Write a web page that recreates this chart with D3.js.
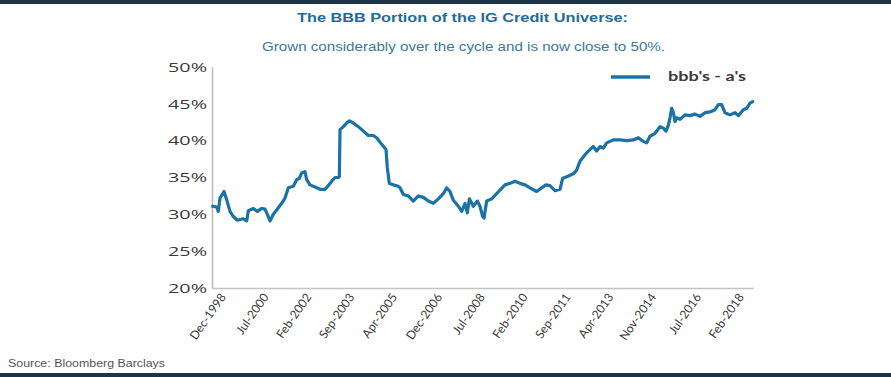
<!DOCTYPE html>
<html>
<head>
<meta charset="utf-8">
<script src="https://cdn.jsdelivr.net/npm/d3@7"></script>
<style>
  html, body { margin: 0; padding: 0; background: #fff; }
  svg { display: block; }
</style>
</head>
<body>
<svg id="chart" width="891" height="377"></svg>
<script>
// ---- Data (decimal years, BBB share in %) ----
const years = [
  1998.572, 1998.720, 1998.781, 1998.843, 1998.991, 1999.114, 1999.213, 1999.336, 1999.484, 1999.706,
  1999.830, 1999.891, 2000.076, 2000.224, 2000.385, 2000.508, 2000.594, 2000.693, 2000.816, 2000.940,
  2001.125, 2001.248, 2001.371, 2001.556, 2001.680, 2001.778, 2001.864, 2001.987, 2002.050, 2002.173,
  2002.358, 2002.542, 2002.728, 2002.851, 2002.974, 2003.097, 2003.221, 2003.258, 2003.283, 2003.406,
  2003.529, 2003.628, 2003.775, 2003.961, 2004.146, 2004.330, 2004.516, 2004.639, 2004.825, 2004.984,
  2005.034, 2005.107, 2005.256, 2005.440, 2005.503, 2005.626, 2005.811, 2005.995, 2006.181, 2006.366,
  2006.550, 2006.736, 2006.921, 2007.105, 2007.229, 2007.352, 2007.476, 2007.660, 2007.784, 2007.907,
  2007.993, 2008.068, 2008.215, 2008.363, 2008.462, 2008.561, 2008.611, 2008.709, 2008.894, 2009.079,
  2009.202, 2009.387, 2009.572, 2009.757, 2009.943, 2010.127, 2010.312, 2010.559, 2010.744, 2010.904,
  2011.052, 2011.237, 2011.422, 2011.521, 2011.669, 2011.915, 2012.038, 2012.161, 2012.347, 2012.532,
  2012.655, 2012.779, 2012.902, 2013.025, 2013.148, 2013.271, 2013.395, 2013.641, 2013.889, 2014.135,
  2014.320, 2014.505, 2014.628, 2014.751, 2014.937, 2015.122, 2015.245, 2015.344, 2015.431, 2015.492,
  2015.554, 2015.615, 2015.677, 2015.739, 2015.862, 2016.047, 2016.232, 2016.417, 2016.602, 2016.787,
  2016.971, 2017.157, 2017.280, 2017.403, 2017.526, 2017.712, 2017.897, 2018.020, 2018.205, 2018.328,
  2018.452, 2018.551
];
const bbbShare = [
  31.1, 31.0, 30.4, 32.2, 33.1, 31.7, 30.4, 29.7, 29.2, 29.4,
  29.1, 30.5, 30.8, 30.4, 30.8, 30.7, 30.0, 29.1, 30.0, 30.6,
  31.5, 32.2, 33.6, 33.8, 34.7, 34.9, 35.6, 35.8, 34.7, 34.0,
  33.7, 33.4, 33.4, 33.9, 34.5, 35.0, 35.0, 35.1, 41.5, 41.9,
  42.4, 42.7, 42.4, 41.9, 41.3, 40.7, 40.7, 40.4, 39.5, 38.8,
  36.3, 34.2, 34.0, 33.8, 33.6, 32.7, 32.5, 31.8, 32.5, 32.3,
  31.8, 31.5, 32.1, 32.8, 33.6, 33.1, 31.9, 31.1, 30.4, 31.5,
  30.2, 32.1, 31.1, 31.8, 31.1, 29.7, 29.5, 31.8, 32.1, 32.8,
  33.3, 34.0, 34.2, 34.5, 34.2, 34.0, 33.6, 33.1, 33.6, 34.0,
  33.9, 33.2, 33.4, 34.9, 35.1, 35.5, 36.0, 37.2, 38.1, 38.8,
  39.2, 38.6, 39.2, 39.0, 39.7, 39.9, 40.1, 40.1, 40.0, 40.1,
  40.4, 39.9, 39.7, 40.6, 41.0, 41.9, 41.7, 41.3, 42.1, 43.1,
  44.4, 43.8, 42.6, 43.1, 42.9, 43.5, 43.4, 43.6, 43.3, 43.8,
  43.9, 44.2, 44.9, 44.9, 43.8, 43.5, 43.8, 43.4, 44.2, 44.4,
  45.1, 45.3
];
const xTickValues = [1998.917, 2000.5, 2002.083, 2003.667, 2005.25, 2006.917, 2008.5,
  2010.083, 2011.667, 2013.25, 2014.833, 2016.5, 2018.083];
const xTickLabels = ["Dec-1998", "Jul-2000", "Feb-2002", "Sep-2003", "Apr-2005", "Dec-2006",
  "Jul-2008", "Feb-2010", "Sep-2011", "Apr-2013", "Nov-2014", "Jul-2016", "Feb-2018"];
const yTickValues = [20, 25, 30, 35, 40, 45, 50];
const seriesName = "bbb's - a's";
const titleText = "The BBB Portion of the IG Credit Universe:";
const subtitleText = "Grown considerably over the cycle and is now close to 50%.";
const sourceText = "Source: Bloomberg Barclays";

// ---- Layout ----
const svg = d3.select("#chart");
const W = 891, H = 377;
const plot = { left: 212, right: 753, top: 67, bottom: 288 };
const lineColor = "#1a72a5";

const x = d3.scaleLinear().domain([1998.547, 2018.562]).range([plot.left, plot.right]);
const y = d3.scaleLinear().domain([20, 50]).range([plot.bottom, plot.top]);

// top & bottom dark bars
svg.append("rect").attr("x", 0).attr("y", 0).attr("width", W).attr("height", 4).attr("fill", "#1d3446");
svg.append("rect").attr("x", 0).attr("y", 373).attr("width", W).attr("height", 4).attr("fill", "#1d3446");

// titles
svg.append("text").attr("x", 297).attr("y", 22)
  .attr("textLength", 331).attr("lengthAdjust", "spacingAndGlyphs")
  .style("font-family", "'Liberation Sans', Arial, sans-serif").style("font-weight", "bold")
  .style("font-size", "13px").attr("fill", "#1f6b98").text(titleText);
svg.append("text").attr("x", 262).attr("y", 51)
  .attr("textLength", 403).attr("lengthAdjust", "spacingAndGlyphs")
  .style("font-family", "'Liberation Sans', Arial, sans-serif")
  .style("font-size", "12.5px").attr("fill", "#3a78a0").text(subtitleText);

// y axis
const yAxis = d3.axisLeft(y).tickValues(yTickValues).tickSize(0).tickPadding(5)
  .tickFormat(d => d + "%");
const gy = svg.append("g").attr("transform", `translate(${plot.left},0)`).call(yAxis);
gy.select(".domain").attr("stroke", "#b8b8b8").attr("stroke-width", 1.5);
gy.selectAll("text").style("font-family", "'Open Sans', sans-serif")
  .style("font-size", "13.5px").attr("fill", "#3a3a3a")
  .attr("textLength", 39).attr("lengthAdjust", "spacingAndGlyphs");

// x axis
const xAxis = d3.axisBottom(x).tickValues(xTickValues).tickSize(0)
  .tickFormat((d, i) => xTickLabels[i]);
const gx = svg.append("g").attr("transform", `translate(0,${plot.bottom})`).call(xAxis);
gx.select(".domain").attr("stroke", "#c4c4c4").attr("stroke-width", 1.5);
gx.selectAll("text")
  .style("font-family", "Lato, 'Open Sans', sans-serif").style("font-size", "12px")
  .attr("fill", "#3a3a3a")
  .attr("text-anchor", "end")
  .attr("dy", "0")
  .attr("y", 0)
  .attr("transform", "translate(4,9) rotate(-55)");

// line
const line = d3.line().x((d, i) => x(years[i])).y(d => y(d)).curve(d3.curveLinear);
svg.append("path").datum(bbbShare).attr("d", line)
  .attr("fill", "none").attr("stroke", lineColor).attr("stroke-width", 3.2)
  .attr("stroke-linejoin", "round").attr("stroke-linecap", "round");

// legend
svg.append("line").attr("x1", 611).attr("x2", 650).attr("y1", 77).attr("y2", 77)
  .attr("stroke", lineColor).attr("stroke-width", 3.5);
svg.append("text").attr("x", 668).attr("y", 81)
  .attr("textLength", 78).attr("lengthAdjust", "spacingAndGlyphs")
  .style("font-family", "Lato, 'Open Sans', sans-serif").style("font-size", "13px")
  .style("font-weight", "bold")
  .attr("fill", "#3a3a3a").text(seriesName);

// source
svg.append("text").attr("x", 8).attr("y", 367)
  .attr("textLength", 157).attr("lengthAdjust", "spacingAndGlyphs")
  .style("font-family", "'Liberation Sans', Arial, sans-serif").style("font-size", "11.5px")
  .attr("fill", "#555").text(sourceText);
</script>
</body>
</html>
